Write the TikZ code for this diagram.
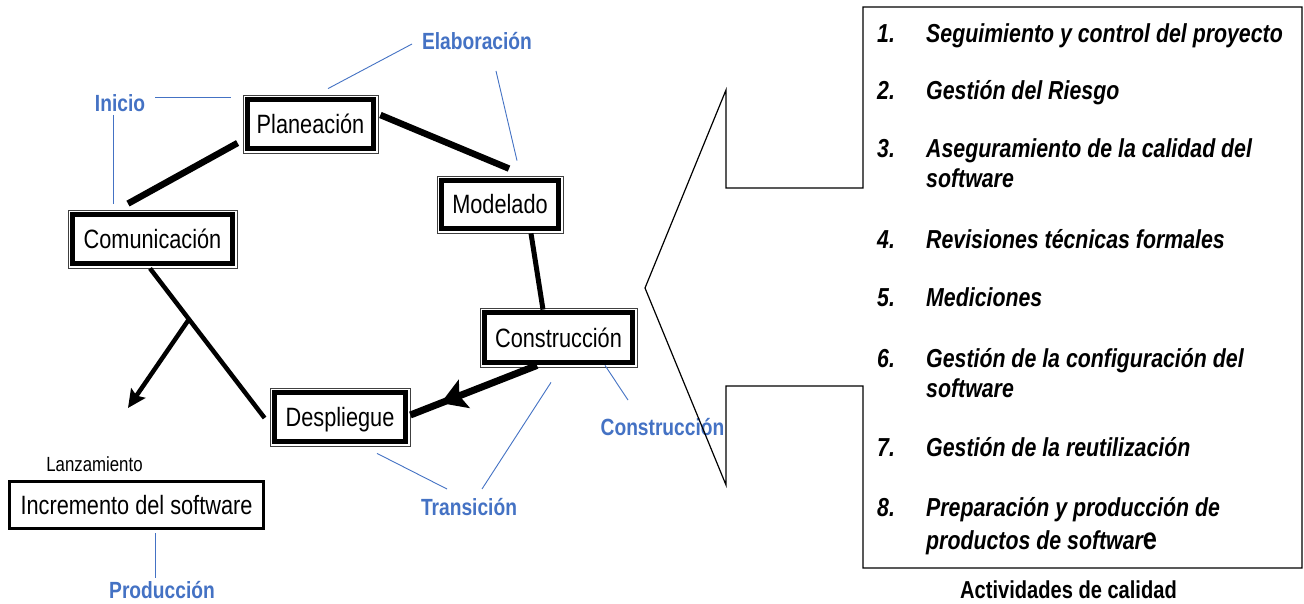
\documentclass[tikz,border=0pt]{standalone}
\usepackage{fontspec}
\setmainfont{Liberation Sans}[FakeStretch=0.82]
\usetikzlibrary{arrows.meta,calc,decorations.markings}
\definecolor{lblue}{RGB}{68,114,196}
\begin{document}
\begin{tikzpicture}[x=1pt,y=-1pt,
  dbox/.style={rectangle, draw=black!75, line width=0.8pt, inner sep=0pt, fill=white,
    text height=19pt, text depth=0pt, font=\fontsize{26.5}{30}\selectfont,
    path picture={\draw[line width=5pt, black]
      ([shift={(4.7pt,-4.7pt)}]path picture bounding box.north west) rectangle
      ([shift={(-4.7pt,4.7pt)}]path picture bounding box.south east);}},
  sbox/.style={rectangle, draw=black, line width=3pt, inner sep=0pt, fill=white,
    text height=19pt, text depth=0pt, font=\fontsize{26.5}{30}\selectfont},
  blab/.style={inner sep=0pt, text height=17pt, text depth=0pt, text=lblue,
    font=\fontsize{23.4}{26}\selectfont\bfseries},
  lead/.style={draw=lblue, line width=0.9pt},
  thk/.style={draw=black, line width=#1},
  litem/.style={anchor=west, inner sep=0pt, text height=18.6pt, text depth=0pt,
    font=\fontsize{26}{30}\selectfont\bfseries\itshape},
  plain/.style={inner sep=0pt, text height=14.5pt, text depth=0pt}
]
\useasboundingbox (0,0) rectangle (1304,604);
\fill[white] (0,0) rectangle (1304,604);

% process boxes
\node[dbox, minimum width=135pt, minimum height=58pt] (plan) at (310.5,124) {Planeación};
\node[dbox, minimum width=126pt, minimum height=57pt] (mod)  at (500,204.5) {Modelado};
\node[dbox, minimum width=169pt, minimum height=58pt] (com)  at (152.5,239) {Comunicación};
\node[dbox, minimum width=157pt, minimum height=59pt] (cons) at (558.5,337.5) {Construcción};
\node[dbox, minimum width=140pt, minimum height=58pt] (desp) at (340,417) {Despliegue};
\node[sbox, minimum width=254pt, minimum height=47pt] (inc)  at (136.5,505) {Incremento del software};
\node[plain, font=\fontsize{20.5}{24}\selectfont] (llanz) at (94.5,464) {Lanzamiento};

% blue phase labels
\node[blab] (lelab)  at (477,41)  {Elaboración};
\node[blab] (linic)  at (120,103) {Inicio};
\node[blab] (lcons)  at (662.5,426.5) {Construcción};
\node[blab] (ltrans) at (469,506.5) {Transición};
\node[blab] (lprod)  at (162,590) {Producción};

% leader lines
\draw[lead] ([shift={(35,-6)}]linic.center) -- ([shift={(-12,-27)}]plan.west);
\draw[lead] ([shift={(-7,12)}]linic.center) -- ([shift={(-39.5,-6)}]com.north);
\draw[lead] ([shift={(17.5,-6)}]plan.north) -- ([shift={(-65,3)}]lelab.center);
\draw[lead] ([shift={(19,30)}]lelab.center) -- ([shift={(17,-15)}]mod.north);
\draw[lead] ([shift={(46.5,-2)}]cons.south) -- ([shift={(-34.5,-26.5)}]lcons.center);
\draw[lead] ([shift={(37,7)}]desp.south) -- ([shift={(-22,-17.5)}]ltrans.center);
\draw[lead] ([shift={(13,-17.5)}]ltrans.center) -- ([shift={(-7.5,15)}]cons.south);
\draw[lead] ([shift={(18.5,3)}]inc.south) -- ([shift={(-7,-12)}]lprod.center);

% thick cycle connectors
\draw[thk=6.5pt] ([shift={(-24.5,-6)}]com.north) -- ([shift={(-5,19)}]plan.west);
\draw[thk=6.5pt] ([shift={(2,-9)}]plan.east) -- ([shift={(9,-7)}]mod.north);
\draw[thk=5pt] ([shift={(31,0)}]mod.south) -- ([shift={(-15.5,2)}]cons.north);
\coordinate (c4a) at ([shift={(-2.5,0)}]com.south);
\coordinate (c4b) at ([shift={(-5,1)}]desp.west);
\draw[thk=4.5pt] (c4a) -- (c4b);
\coordinate (rel) at (128,408);
\draw[thk=4.5pt, -{Stealth[length=18pt,width=17pt,inset=3pt]}] ($(c4a)!0.34!(c4b)$) -- (rel);
\draw[thk=7pt, postaction={decorate},
  decoration={markings, mark=at position 0.76 with {\arrow{Stealth[length=25pt,width=30pt,inset=5pt]}}}]
  ([shift={(-21.5,-2)}]cons.south) -- ([shift={(0,-2)}]desp.east);

% callout
\draw[line width=1.2pt, line join=miter] (863,7) -- (1302,7) -- (1302,568) -- (863,568) -- (863,386)
  -- (726,386) -- (726,485) -- (645,288) -- (726,90) -- (726,188) -- (863,188) -- cycle;

% list
\node[litem] (n1) at (877,33) {1.};
\node[litem] (t1) at (926,33) {Seguimiento y control del proyecto};
\node[litem] (n2) at (877,90) {2.};
\node[litem] (t2) at (926,90) {Gestión del Riesgo};
\node[litem] (n3) at (877,148) {3.};
\node[litem] (t3) at (926,148) {Aseguramiento de la calidad del};
\node[litem] (t3b) at (926,178) {software};
\node[litem] (n4) at (877,239) {4.};
\node[litem] (t4) at (926,239) {Revisiones técnicas formales};
\node[litem] (n5) at (877,297) {5.};
\node[litem] (t5) at (926,297) {Mediciones};
\node[litem] (n6) at (877,358) {6.};
\node[litem] (t6) at (926,358) {Gestión de la configuración del};
\node[litem] (t6b) at (926,388) {software};
\node[litem] (n7) at (877,447) {7.};
\node[litem] (t7) at (926,447) {Gestión de la reutilización};
\node[litem] (n8) at (877,507) {8.};
\node[litem] (t8) at (926,507) {Preparación y producción de};
\node[litem] (t8b) at (926,540) {productos de softwar{\upshape\fontsize{31}{31}\selectfont e}};
\node[inner sep=0pt, text height=17pt, text depth=0pt, font=\fontsize{24.5}{28}\selectfont\bfseries] (lact) at (1068.5,590) {Actividades de calidad};
\end{tikzpicture}
\end{document}
